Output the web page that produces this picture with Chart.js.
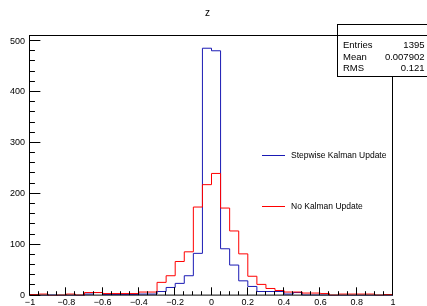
<!DOCTYPE html>
<html>
<head>
<meta charset="utf-8">
<script src="https://cdn.jsdelivr.net/npm/chart.js@4/dist/chart.umd.min.js"></script>
<style>
html,body{margin:0;padding:0;background:#fff;}
canvas{display:block;}
</style>
</head>
<body>
<canvas id="c" width="427" height="306"></canvas>
<script>
// ---- data ----
const histTitle = "z";
const binLow = -1;
const binWidth = 0.05;
const stepwiseLabel = "Stepwise Kalman Update";
const stepwiseCounts = [
  0,0,1,0,0,0,3,6,2,2,
  2,2,3,3,8,16,24,39,83,486,
  481,92,60,29,18,8,8,8,3,6,
  1,1,1,0,0,0,0,0,0,0
];
const noKalmanLabel = "No Kalman Update";
const noKalmanCounts = [
  2,3,0,1,3,1,6,6,4,4,
  4,4,7,7,26,39,67,86,174,218,
  240,172,127,82,38,22,14,10,7,7,
  5,5,4,1,3,3,3,3,1,2
];
const xTickValues = [-1,-0.8,-0.6,-0.4,-0.2,0,0.2,0.4,0.6,0.8,1];
const yTickValues = [0,100,200,300,400,500];
const statsRows = [["Entries","1395"],["Mean","0.007902"],["RMS","0.121"]];

const FONT = "'Liberation Sans', Arial, Helvetica, sans-serif";

function histPoints(counts){
  const pts = [{x: binLow, y: 0}];
  counts.forEach((v,i) => pts.push({x: binLow + i*binWidth, y: v}));
  pts.push({x: binLow + counts.length*binWidth, y: 0});
  return pts;
}
function fmt(v){
  const s = (Math.round(v*10)/10).toString();
  return v < 0 ? "\u2212" + s.slice(1) : s;
}

const rootPlugin = {
  id: 'rootStyle',
  afterDraw(chart){
    const ctx = chart.ctx;
    const a = chart.chartArea;
    const xs = chart.scales.x, ys = chart.scales.y;
    const L = a.left - 0.5, R = a.right - 0.5, T = a.top + 0.5, B = a.bottom - 0.5;
    ctx.save();
    ctx.strokeStyle = '#000';
    ctx.lineWidth = 1;
    // frame
    ctx.strokeRect(L, T, R - L, B - T);
    // x ticks (inside)
    const hMaj = (B - T) * 0.03, hMin = hMaj / 2;
    ctx.beginPath();
    for (let i = 0; i <= 40; i++) {
      const v = -1 + i * 0.05;
      const px = Math.round(xs.getPixelForValue(v)) - 0.5;
      const len = (i % 4 === 0) ? hMaj : hMin;
      ctx.moveTo(px, B); ctx.lineTo(px, B - len);
    }
    // y ticks (inside)
    const wMaj = (R - L) * 0.03, wMin = wMaj / 2;
    for (let v = 0; v <= ys.max; v += 20) {
      const py = Math.round(ys.getPixelForValue(v)) - 0.5;
      const len = (v % 100 === 0) ? wMaj : wMin;
      ctx.moveTo(L, py); ctx.lineTo(L + len, py);
    }
    ctx.stroke();

    // title
    ctx.fillStyle = '#000';
    ctx.font = "10px " + FONT;
    ctx.textAlign = 'center';
    ctx.textBaseline = 'middle';
    ctx.fillText(histTitle, 207.5, 13.5);

    // legend
    ctx.font = "8.5px " + FONT;
    ctx.textAlign = 'left';
    const legendY = [156, 206.5];
    chart.data.datasets.forEach((ds, i) => {
      const y = legendY[i];
      ctx.strokeStyle = ds.borderColor;
      ctx.beginPath();
      ctx.moveTo(262, Math.round(y) - 0.5);
      ctx.lineTo(285, Math.round(y) - 0.5);
      ctx.stroke();
      ctx.fillStyle = '#000';
      ctx.fillText(ds.label, 291, y);
    });

    // stats box
    const bx = 337.5, by = 24.5, bw = 90, bh = 52;
    ctx.fillStyle = '#fff';
    ctx.fillRect(bx, by, bw, bh);
    ctx.strokeStyle = '#000';
    ctx.strokeRect(bx, by, bw, bh);
    ctx.beginPath();
    ctx.moveTo(bx, 35.5); ctx.lineTo(bx + bw, 35.5);
    ctx.stroke();
    ctx.fillStyle = '#000';
    ctx.font = "9.5px " + FONT;
    const rowY = [45.7, 57.3, 68.5];
    statsRows.forEach((r, i) => {
      ctx.textAlign = 'left';
      ctx.fillText(r[0], 343, rowY[i]);
      ctx.textAlign = 'right';
      ctx.fillText(r[1], 424.5, rowY[i]);
    });
    ctx.restore();
  }
};

new Chart(document.getElementById('c'), {
  type: 'line',
  data: {
    datasets: [
      { label: stepwiseLabel, data: histPoints(stepwiseCounts), borderColor: '#1a1ab4',
        borderWidth: 1, stepped: 'before', pointRadius: 0, fill: false, order: 2 },
      { label: noKalmanLabel, data: histPoints(noKalmanCounts), borderColor: '#ff0000',
        borderWidth: 1, stepped: 'before', pointRadius: 0, fill: false, order: 1 }
    ]
  },
  options: {
    responsive: false,
    animation: false,
    devicePixelRatio: 1,
    layout: { padding: { top: 35, right: 34, left: 0, bottom: 0 } },
    plugins: { legend: { display: false }, title: { display: false }, tooltip: { enabled: false } },
    scales: {
      x: {
        type: 'linear', min: -1, max: 1,
        grid: { display: false, drawTicks: false },
        border: { display: false },
        afterBuildTicks: s => { s.ticks = xTickValues.map(v => ({ value: v })); },
        afterFit: s => { s.height = 10; },
        ticks: { autoSkip: false, maxRotation: 0, padding: 2, color: '#000',
                 font: { family: FONT, size: 9 }, callback: v => fmt(v) }
      },
      y: {
        type: 'linear', min: 0, max: 512,
        grid: { display: false, drawTicks: false },
        border: { display: false },
        afterBuildTicks: s => { s.ticks = yTickValues.map(v => ({ value: v })); },
        afterFit: s => { s.width = 30; },
        ticks: { padding: 5, color: '#000', font: { family: FONT, size: 9 },
                 callback: v => String(v) }
      }
    }
  },
  plugins: [rootPlugin]
});
</script>
</body>
</html>
